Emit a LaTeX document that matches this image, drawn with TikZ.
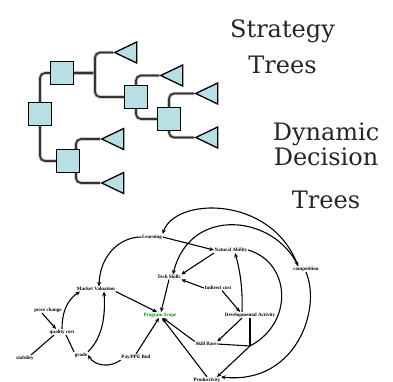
\documentclass[tikz,border=0pt]{standalone}
\usepackage{fontspec}
\setmainfont{Liberation Serif}
\newfontfamily\titlefont{DejaVu Serif}
\newcommand\tightlines{\lineskiplimit-30pt\relax\lineskip0pt\relax}
\usetikzlibrary{shapes.geometric,arrows.meta,backgrounds,calc}
\definecolor{boxfill}{RGB}{184,224,228}
\definecolor{scopegreen}{RGB}{0,150,0}
\newcommand\treelink[1]{\draw[halo] #1; \draw[branch] #1;}
\tikzset{
 sq/.style={draw=black, line width=1.3pt, fill=boxfill, minimum size=23pt, inner sep=0},
 tri/.style={draw=black, line width=1.3pt, fill=boxfill, isosceles triangle, isosceles triangle stretches, shape border rotate=180, minimum width=21pt, minimum height=22pt, inner sep=0, anchor=apex},
 halo/.style={draw=black!30, line width=3.2pt, rounded corners=5pt},
 branch/.style={draw=black!80, line width=1.6pt, rounded corners=5pt},
 title/.style={text=black!85, anchor=north, inner sep=0, align=center},
 cl/.style={font=\fontsize{5}{5}\selectfont\bfseries, inner sep=0.6pt},
 link/.style={draw=black, line width=1.1pt, -{Stealth[length=4.5pt,width=4pt]}},
 linkboth/.style={draw=black, line width=1.1pt, {Stealth[length=4.5pt,width=4pt]}-{Stealth[length=4.5pt,width=4pt]}},
 plain/.style={draw=black, line width=1.1pt},
}
\begin{document}
\begin{tikzpicture}[x=1pt,y=-1pt]
\useasboundingbox (0,0) rectangle (393,381);
% ---- strategy tree ----
\node[sq] (r) at (40,114) {};
\node[sq] (u) at (62,73) {};
\node[sq] (lo) at (68,161) {};
\node[sq] (m) at (136,97) {};
\node[sq] (rt) at (169,119) {};
\node[tri] (t1) at (113,52.5) {};
\node[tri] (t2) at (159,75.5) {};
\node[tri] (t3) at (194,93.5) {};
\node[tri] (t4) at (194,137.5) {};
\node[tri] (t5) at (100,139) {};
\node[tri] (t6) at (100,183) {};
\coordinate (ub) at (95,73);
\begin{scope}[on background layer]
\treelink{(r.north) |- (u.west)}
\treelink{(r.south) |- (lo.west)}
\treelink{(u.east) -- (ub)}
\treelink{(ub) |- (t1.apex)}
\treelink{(ub) |- (m.west)}
\treelink{(m.north) |- (t2.apex)}
\treelink{(m.south) |- (rt.west)}
\treelink{(rt.north) |- (t3.apex)}
\treelink{(rt.south) |- (t4.apex)}
\treelink{([xshift=8pt]lo.north) |- (t5.apex)}
\treelink{([xshift=8pt]lo.south) |- (t6.apex)}
\end{scope}
% ---- titles ----
\node[title, font=\titlefont\fontsize{24}{36}\selectfont] (st) at (282.5,19) {Strategy\\Trees};
\node[title, font=\titlefont\fontsize{24}{25}\selectfont\tightlines] (dt) at (326,122.5) {Dynamic\\Decision\\[18pt]Trees};
% ---- causal loop diagram ----
\node[cl] (A) at (152,237) {Learning};
\node[cl] (nat) at (231,250) {Natural Ability};
\node[cl] (tech) at (169,277) {Tech Skills};
\node[cl] (ind) at (218,288) {Indirect cost};
\node[cl] (dev) at (250,315) {Developmental Activity};
\node[cl] (comp) at (306,269) {competition};
\node[cl] (mkt) at (96,289) {Market Valuation};
\node[cl,text=scopegreen] (ps) at (160,315) {Program Scope};
\node[cl] (price) at (48,310) {price change};
\node[cl] (qual) at (62,332) {quality cost};
\node[cl] (stab) at (25,358) {stability};
\node[cl] (grade) at (81,355) {grade};
\node[cl] (pay) at (136,357) {Pay/PPE Bud};
\node[cl] (skill) at (206,344) {Skill Base};
\node[cl] (prod) at (207,380) {Productivity};
\coordinate (J) at (250,346);

\draw[linkboth] ([xshift=-8pt]comp.north) .. controls (270,195) and (175,197) .. (A.north east);
\draw[link] ([xshift=-8pt]comp.north) .. controls (275,215) and (190,205) .. ([xshift=4pt]tech.north);
\draw[link] (A.west) .. controls (120,237) and (100,255) .. ([xshift=3pt]mkt.north);
\draw[link] (A.east) -- (nat.west);
\draw[link] (nat.south west) -- (tech.north east);
\draw[link] (ind.west) -- (tech.south east);
\draw[link] (tech.south) -- ([xshift=1pt]ps.north);
\draw[link] (mkt.south east) -- ([xshift=-3pt]ps.north);
\draw[link] (skill.north west) -- ([xshift=3pt]ps.south);
\draw[link] (prod.north) -- ([xshift=2pt]ps.south);
\draw[link] (pay.north) -- ([xshift=-1pt]ps.south);
\draw[link] (grade.north east) .. controls (105,335) and (105,310) .. ([xshift=8pt]mkt.south);
\draw[link] (pay.south west) .. controls (110,368) and (95,366) .. (grade.east);
\draw[link] (qual.north) .. controls (62,308) and (70,298) .. ([xshift=-16pt]mkt.south);
\draw[link] ([xshift=-6pt]price.south) -- ([xshift=-6pt]qual.north);
\draw[plain] ([xshift=6pt]stab.north) -- ([xshift=-8pt]qual.south);
\draw[plain] ([xshift=4pt]qual.south) -- (grade.north west);
\draw[link] ([xshift=-8pt]dev.north) .. controls (243,290) and (240,270) .. ([xshift=4pt]nat.south);
\draw[link] ([xshift=4pt]ind.south) -- ([xshift=-10pt]dev.north);
\draw[plain] (nat.east) .. controls (290,262) and (295,322) .. (J);
\draw[link] ([xshift=-8pt]dev.south) -- (skill.north east);
\draw[plain] (J |- dev.south) -- (J);
\draw[plain] (skill.east) -- (J);
\draw[link] (J) -- ([xshift=10pt]prod.north);
\draw[link] (comp.south) .. controls (322,310) and (295,385) .. ([xshift=14pt]prod.north);
\end{tikzpicture}
\end{document}
